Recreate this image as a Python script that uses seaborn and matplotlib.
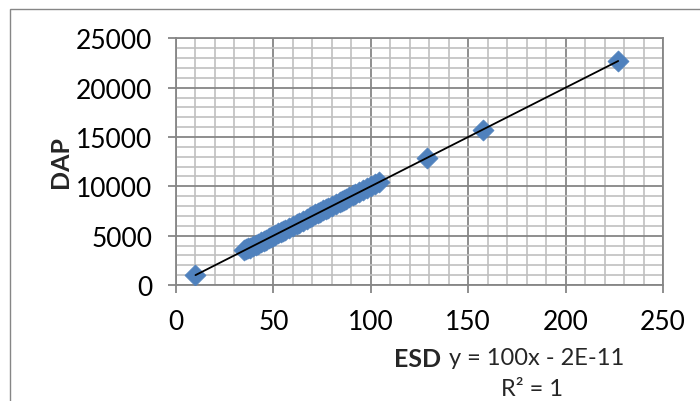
import matplotlib
matplotlib.use("Agg")
import matplotlib.pyplot as plt
import seaborn as sns
import numpy as np
import pandas as pd
from matplotlib.ticker import MultipleLocator
from matplotlib.patches import Rectangle

# ---- data ----
esd = [10, 35, 36, 37, 38, 39.5, 41, 42, 43.5, 45, 46, 47.5, 49, 50, 51, 52.5,
       54, 55, 56, 58, 60, 62, 63, 65, 67, 69, 70, 71.5, 73, 74, 75.5, 77, 78,
       80, 82, 84, 85, 86, 87.5, 89, 91, 92, 94, 96, 98, 100, 102, 104,
       129, 157.5, 227]
dap = [1000, 3500, 3600, 3700, 3800, 3950, 4100, 4200, 4350, 4500, 4600, 4750,
       4900, 5000, 5100, 5250, 5400, 5500, 5600, 5800, 6000, 6200, 6300, 6500,
       6700, 6900, 7000, 7150, 7300, 7400, 7550, 7700, 7800, 8000, 8200, 8400,
       8500, 8600, 8750, 8900, 9100, 9200, 9400, 9600, 9800, 10000, 10200,
       10400, 12900, 15750, 22700]
x_ticks = [0, 50, 100, 150, 200, 250]
y_ticks = [0, 5000, 10000, 15000, 20000, 25000]
x_label = "ESD"
y_label = "DAP"
eq_text = "y = 100x - 2E-11"
r2_text = "R² = 1"

df = pd.DataFrame({"ESD": esd, "DAP": dap})

sns.set_theme(style="white")
plt.rcParams['font.family'] = ['Lato', 'DejaVu Sans']

W, H = 700, 402
fig = plt.figure(figsize=(W / 100, H / 100), dpi=100)
fig.patch.set_facecolor("white")

# outer chart border (cropped on right/bottom)
fig.patches.append(Rectangle((10 / W, -0.5), 2, 1 - 10 / H + 0.5,
                             transform=fig.transFigure, fill=False,
                             edgecolor="#868686", linewidth=1.0))

ax = fig.add_axes([176 / W, (H - 286) / H, (663 - 176) / W, (286 - 39.3) / H])

blue = "#4F81BD"
sns.scatterplot(data=df, x="ESD", y="DAP", ax=ax, marker="D", s=115,
                color=blue, edgecolor=blue, linewidth=0.5, zorder=3)
sns.regplot(data=df, x="ESD", y="DAP", ax=ax, scatter=False, ci=None,
            truncate=True, line_kws=dict(color="black", lw=1.3, zorder=4))

ax.set_xlim(0, 250)
ax.set_ylim(0, 25000)
ax.set_xticks(x_ticks)
ax.set_yticks(y_ticks)
ax.set_xticklabels([str(t) for t in x_ticks])
ax.set_yticklabels([str(t) for t in y_ticks])
ax.xaxis.set_minor_locator(MultipleLocator(10))
ax.yaxis.set_minor_locator(MultipleLocator(1000))
ax.set_axisbelow(True)
ax.grid(which="minor", color="#c0c0c0", linewidth=1.2)
ax.grid(which="major", color="#868686", linewidth=1.3)

for sp in ax.spines.values():
    sp.set_color("#868686")
    sp.set_linewidth(1.3)

ax.tick_params(which="major", direction="out", length=6, width=1.3,
               color="#868686", labelsize=19, pad=11, labelcolor="black",
               bottom=True, left=True)
ax.tick_params(which="minor", length=0)

ax.set_xlabel("")
ax.set_ylabel("")

fig.text(60 / W, 1 - 162 / H, y_label, rotation=90, ha="center", va="center",
         fontsize=18, fontweight="bold")
fig.text(441 / W, 1 - 360 / H, x_label, ha="right", va="center",
         fontsize=18, fontweight="bold")
fig.text(449 / W, 1 - 359 / H, eq_text, ha="left", va="center", fontsize=17)
fig.text(532 / W, 1 - 390 / H, r2_text, ha="center", va="center", fontsize=17)

fig.savefig("out.png", dpi=100)
